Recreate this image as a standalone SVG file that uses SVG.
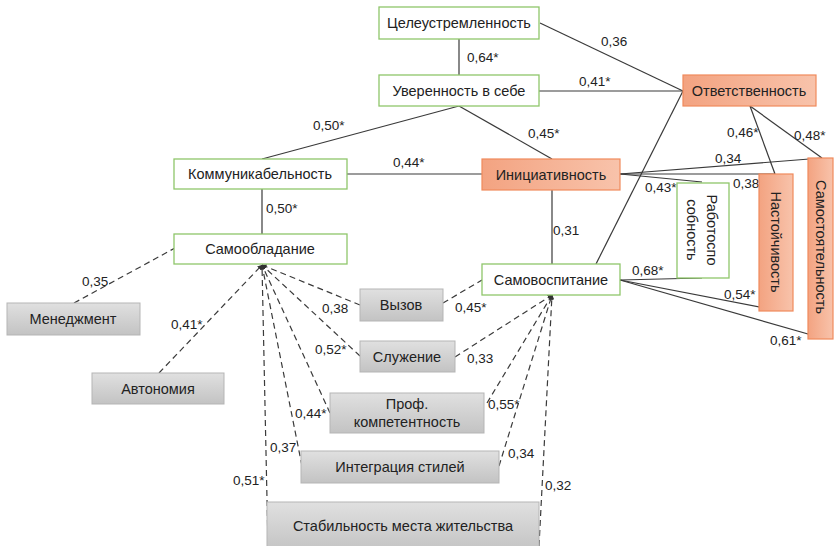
<svg xmlns="http://www.w3.org/2000/svg" width="835" height="546" viewBox="0 0 835 546">
<defs>
<linearGradient id="gOr" x1="0" y1="0" x2="1" y2="0">
<stop offset="0" stop-color="#f3a381"/><stop offset="1" stop-color="#f8c3ab"/>
</linearGradient>
<linearGradient id="gGr" x1="0" y1="0" x2="0" y2="1">
<stop offset="0" stop-color="#e0e0e0"/><stop offset="1" stop-color="#c3c3c3"/>
</linearGradient>
<marker id="ar" viewBox="0 0 10 10" refX="9" refY="5" markerWidth="5" markerHeight="5" orient="auto" markerUnits="userSpaceOnUse">
<path d="M0,0 L10,5 L0,10 z" fill="#333"/>
</marker>
<style>
.gn{fill:#fff;stroke:#8fc66a;stroke-width:1.3}
.on{fill:url(#gOr);stroke:#f08a5c;stroke-width:1.2}
.gy{fill:url(#gGr);stroke:#b5b5b5;stroke-width:1}
.t{font-family:"Liberation Sans",Arial,sans-serif;font-size:14.5px;fill:#222;text-anchor:middle}
.l{font-family:"Liberation Sans",Arial,sans-serif;font-size:13.5px;fill:#222}
.s{stroke:#3a3a3a;stroke-width:1.2;fill:none}
.d{stroke:#3a3a3a;stroke-width:1.2;fill:none;stroke-dasharray:6,4;marker-end:url(#ar)}
.dn{stroke:#3a3a3a;stroke-width:1.2;fill:none;stroke-dasharray:6,4}
</style>
</defs>
<rect width="835" height="546" fill="#fff"/>

<g id="connectors">
<line class="s" x1="459" y1="39" x2="459" y2="75"/>
<line class="s" x1="540" y1="23" x2="683" y2="91"/>
<line class="s" x1="539" y1="91" x2="683" y2="91"/>
<line class="s" x1="459" y1="106" x2="262" y2="159"/>
<line class="s" x1="459" y1="106" x2="552" y2="159"/>
<line class="s" x1="347" y1="174" x2="482" y2="174"/>
<line class="s" x1="262" y1="189" x2="262" y2="234"/>
<line class="s" x1="552" y1="190" x2="552" y2="264"/>
<line class="s" x1="683" y1="91" x2="596" y2="264"/>
<line class="s" x1="620" y1="174" x2="822" y2="158"/>
<line class="s" x1="620" y1="174" x2="775" y2="174"/>
<line class="s" x1="620" y1="174" x2="702" y2="182"/>
<line class="s" x1="750" y1="106" x2="775" y2="174"/>
<line class="s" x1="750" y1="106" x2="822" y2="158"/>
<line class="s" x1="620" y1="280" x2="702" y2="278"/>
<line class="s" x1="620" y1="280" x2="775" y2="310"/>
<line class="s" x1="620" y1="280" x2="822" y2="338"/>

<line class="dn" x1="74" y1="303" x2="175" y2="248"/>
<line class="d" x1="159" y1="373" x2="262" y2="265"/>
<line class="d" x1="360" y1="305" x2="262" y2="265"/>
<line class="d" x1="360" y1="356" x2="262" y2="265"/>
<line class="d" x1="330" y1="413" x2="262" y2="265"/>
<line class="d" x1="302" y1="466" x2="262" y2="265"/>
<line class="d" x1="268" y1="546" x2="262" y2="265"/>

<line class="dn" x1="443" y1="303" x2="482" y2="280"/>
<line class="d" x1="455" y1="357" x2="552" y2="295"/>
<line class="d" x1="487" y1="403" x2="552" y2="295"/>
<line class="d" x1="499" y1="466" x2="552" y2="295"/>
<line class="d" x1="539" y1="546" x2="552" y2="295"/>
</g>

<g id="labels">
<text class="l" x="467" y="62">0,64*</text>
<text class="l" x="601" y="46">0,36</text>
<text class="l" x="579" y="86">0,41*</text>
<text class="l" x="313" y="130">0,50*</text>
<text class="l" x="528" y="138">0,45*</text>
<text class="l" x="393" y="167">0,44*</text>
<text class="l" x="266" y="213">0,50*</text>
<text class="l" x="553" y="235">0,31</text>
<text class="l" x="715" y="163">0,34</text>
<text class="l" x="733" y="188">0,38</text>
<text class="l" x="645" y="192">0,43*</text>
<text class="l" x="727" y="137">0,46*</text>
<text class="l" x="794" y="140">0,48*</text>
<text class="l" x="632" y="275">0,68*</text>
<text class="l" x="724" y="299">0,54*</text>
<text class="l" x="770" y="345">0,61*</text>
<text class="l" x="82" y="286">0,35</text>
<text class="l" x="171" y="329">0,41*</text>
<text class="l" x="322" y="313">0,38</text>
<text class="l" x="315" y="354">0,52*</text>
<text class="l" x="295" y="418">0,44*</text>
<text class="l" x="270" y="452">0,37</text>
<text class="l" x="233" y="485">0,51*</text>
<text class="l" x="455" y="312">0,45*</text>
<text class="l" x="467" y="363">0,33</text>
<text class="l" x="488" y="409">0,55*</text>
<text class="l" x="508" y="458">0,34</text>
<text class="l" x="545" y="490">0,32</text>
</g>

<g id="n-celeustr"><rect class="gn" x="379" y="7" width="160" height="32"/><text class="t" x="459" y="28">Целеустремленность</text></g>
<g id="n-uverennost"><rect class="gn" x="379" y="75" width="160" height="31"/><text class="t" x="459" y="96">Уверенность в себе</text></g>
<g id="n-otvetstv"><rect class="on" x="683" y="75" width="133" height="31"/><text class="t" x="749" y="96">Ответственность</text></g>
<g id="n-kommunik"><rect class="gn" x="174" y="159" width="173" height="30"/><text class="t" x="260" y="179">Коммуникабельность</text></g>
<g id="n-iniciat"><rect class="on" x="482" y="159" width="138" height="31"/><text class="t" x="551" y="180">Инициативность</text></g>
<g id="n-samoobl"><rect class="gn" x="174" y="234" width="173" height="30"/><text class="t" x="260" y="254">Самообладание</text></g>
<g id="n-samovosp"><rect class="gn" x="482" y="264" width="138" height="31"/><text class="t" x="551" y="285">Самовоспитание</text></g>
<g id="n-rabotosp"><rect class="gn" x="677" y="183" width="52" height="95"/>
<g transform="translate(703,230) rotate(90)"><text class="t" x="0" y="-4">Работоспо</text><text class="t" x="0" y="16">собность</text></g></g>
<g id="n-nastoich"><rect class="on" x="759" y="174" width="34" height="137"/>
<text class="t" transform="translate(776,242) rotate(90)" x="0" y="5">Настойчивость</text></g>
<g id="n-samostoyat"><rect class="on" x="808" y="158" width="25" height="181"/>
<text class="t" transform="translate(821,247) rotate(90)" x="0" y="5">Самостоятельность</text></g>

<g id="n-menedzh"><rect class="gy" x="7" y="303" width="133" height="32"/><text class="t" x="73" y="324">Менеджмент</text></g>
<g id="n-avtonom"><rect class="gy" x="92" y="373" width="132" height="31"/><text class="t" x="158" y="394">Автономия</text></g>
<g id="n-vyzov"><rect class="gy" x="360" y="289" width="83" height="32"/><text class="t" x="401" y="310">Вызов</text></g>
<g id="n-sluzh"><rect class="gy" x="360" y="341" width="95" height="31"/><text class="t" x="407" y="362">Служение</text></g>
<g id="n-prof"><rect class="gy" x="330" y="393" width="154" height="40"/><text class="t" x="407" y="409">Проф.</text><text class="t" x="407" y="427">компетентность</text></g>
<g id="n-integr"><rect class="gy" x="301" y="451" width="198" height="32"/><text class="t" x="400" y="472">Интеграция стилей</text></g>
<g id="n-stabil"><rect class="gy" x="267" y="502" width="272" height="50"/><text class="t" x="403" y="531">Стабильность места жительства</text></g>
</svg>
